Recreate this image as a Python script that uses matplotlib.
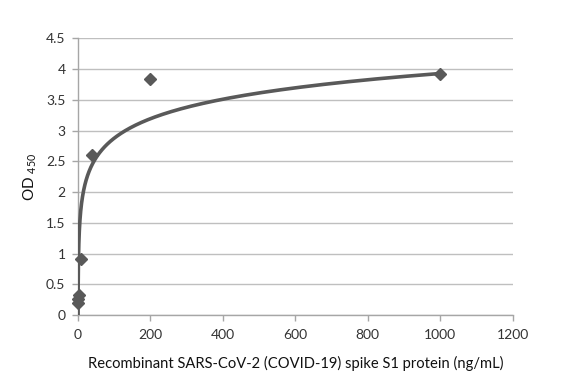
"""
Standard curve for recombinant SARS-CoV-2 spike S1 protein ELISA (OD450),
with a logarithmic trendline as drawn by Excel.
"""

import matplotlib
matplotlib.use('Agg')
import matplotlib.pyplot as plt
import numpy as np

# Data
# ----------------------------------------------------------------------------

conc = [0.064, 0.32, 1.6, 8, 40, 200, 1000]          # ng/mL, 5-fold dilutions
od450 = [0.20, 0.26, 0.33, 0.92, 2.60, 3.83, 3.92]
xticks = [0, 200, 400, 600, 800, 1000, 1200]
yticks = [0, 0.5, 1, 1.5, 2, 2.5, 3, 3.5, 4, 4.5]

# Logarithmic trendline y = a ln(x) + b
a, b = np.polyfit(np.log(conc), od450, 1)
xfit = np.geomspace(min(conc), max(conc), 400)
yfit = a * np.log(xfit) + b

# Plot
# ----------------------------------------------------------------------------

plt.rcParams['font.family'] = ['Lato', 'DejaVu Sans']
dark = '#595959'

fig = plt.figure(figsize=(5.82, 3.82), dpi=100)
ax = fig.add_axes([0.134, 0.175, 0.747, 0.725])

ax.plot(xfit, yfit, color=dark, lw=2.6, solid_capstyle='butt', zorder=3)
ax.plot(conc, od450, 'D', color=dark, ms=6.5, mec=dark, zorder=4, clip_on=False)

ax.set_xlim(0, 1200)
ax.set_ylim(0, 4.5)
ax.set_xticks(xticks)
ax.set_yticks(yticks)
ax.set_yticklabels([f'{v:g}' for v in yticks])
ax.yaxis.grid(True, color='#bfbfbf', lw=1)
ax.set_axisbelow(True)

for side in ('top', 'right'):
    ax.spines[side].set_visible(False)
for side in ('left', 'bottom'):
    ax.spines[side].set_color('#a6a6a6')
    ax.spines[side].set_linewidth(1)
ax.tick_params(axis='both', colors='#a6a6a6', labelcolor='#333333',
               labelsize=10, length=4, width=1, direction='out')
ax.tick_params(axis='y', pad=5)
ax.tick_params(axis='x', pad=6)

ax.set_xlabel('Recombinant SARS-CoV-2 (COVID-19) spike S1 protein (ng/mL)',
              fontsize=10.6, color='#111111', labelpad=11)
ax.set_ylabel(r'OD $_{\mathregular{450}}$', fontsize=11, color='#111111',
              labelpad=5)

fig.savefig('out.png', dpi=100)
